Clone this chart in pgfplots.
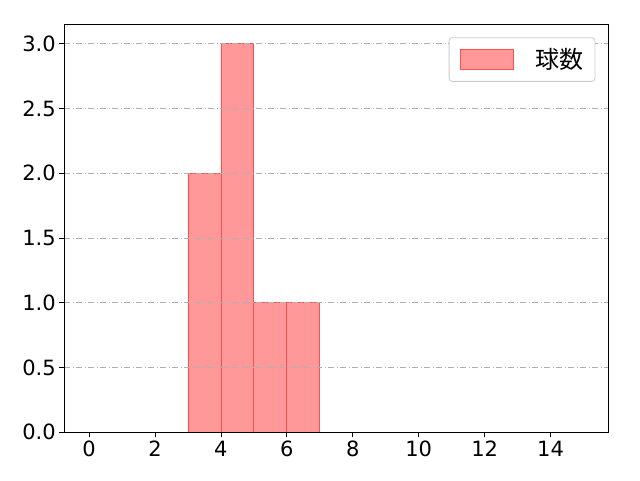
\documentclass[border=0pt]{standalone}
\usepackage{pgfplots}
\pgfplotsset{compat=1.18}
\usepackage{fontspec}
\setmainfont{Noto Sans CJK JP}
\newfontfamily\tickfont{DejaVu Sans}
\definecolor{barfill}{RGB}{255,153,153}
\definecolor{baredge}{RGB}{255,80,80}
\definecolor{gridgray}{RGB}{176,176,176}
\begin{document}
\begin{tikzpicture}
\begin{axis}[
  name=ax,
  scale only axis,
  width=544pt, height=408pt,
  xmin=-0.75, xmax=15.75,
  ymin=0, ymax=3.15,
  xtick={0,2,...,14},
  ytick={0,0.5,...,3.0},
  yticklabel style={/pgf/number format/.cd, fixed, fixed zerofill, precision=1},
  /pgf/number format/assume math mode=true,
  tick label style={font=\tickfont\fontsize{21}{24}\selectfont},
  tick align=outside,
  major tick length=5pt,
  tick style={black, line width=0.8pt},
  xtick pos=bottom, ytick pos=left,
  axis line style={line width=0.8pt},
  axis on top,
  ymajorgrids,
  grid style={gridgray, line width=0.8pt, dash pattern=on 6pt off 2.5pt on 1pt off 2.5pt},
  legend style={at={(1,1)}, anchor=north east, xshift=-13pt, yshift=-13pt,
    draw=gray!40, rounded corners=3pt, line width=0.8pt,
    font=\fontsize{24}{26}\selectfont, inner xsep=11pt, inner ysep=11pt,
    nodes={inner sep=0pt},
    /tikz/every even column/.append style={column sep=0pt}},
  legend cell align=left,
  legend image code/.code={\draw[#1, sharp corners] (0pt,-10pt) rectangle (53pt,10pt);},
]
\addplot[ybar interval, fill=barfill, draw=baredge, line width=0.8pt]
  coordinates {(0,0) (1,0) (2,0) (3,2) (4,3) (5,1) (6,1) (7,0) (8,0) (9,0) (10,0) (11,0) (12,0) (13,0) (14,0) (15,0)};
\addlegendentry{\hspace{22pt}球数}
\end{axis}
\pgfresetboundingbox
\path[use as bounding box] ([xshift=-64.3pt,yshift=-47.7pt]ax.south west) rectangle ([xshift=31.7pt,yshift=24.3pt]ax.north east);
\end{tikzpicture}
\end{document}
